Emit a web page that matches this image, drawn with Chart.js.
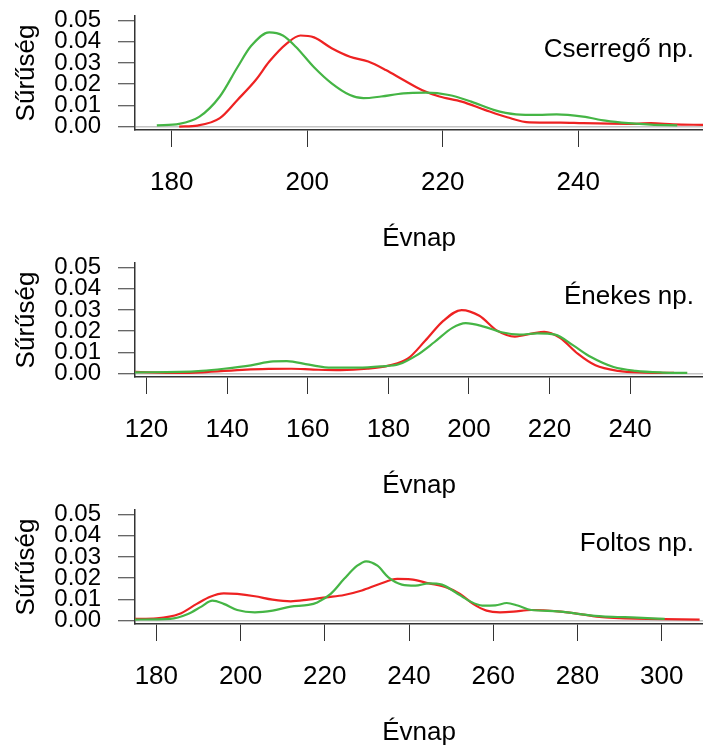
<!DOCTYPE html>
<html>
<head>
<meta charset="utf-8">
<script src="https://cdn.jsdelivr.net/npm/chart.js@4/dist/chart.umd.min.js"></script>
<style>
  html, body { margin: 0; padding: 0; background: #fff; }
  #wrap { position: relative; width: 703px; height: 749px; overflow: hidden; }
  #wrap canvas { position: absolute; left: 0; }
</style>
</head>
<body>
<div id="wrap">
  <canvas id="p1" width="703" height="252" style="top:0px"></canvas>
  <canvas id="p2" width="703" height="252" style="top:247px"></canvas>
  <canvas id="p3" width="703" height="252" style="top:494px"></canvas>
</div>
<script>
// Cserregő np.
const cserGreenX = [177.8, 181.1, 184.1, 187.1, 189.7, 191.7, 194.4, 196.4, 198.3, 201, 203.6, 206.3, 208.3, 210.9, 214.2, 217.5, 220.9, 224.2, 227.5, 230.8, 234.1, 236.8, 240.7, 244, 247.4, 250.7, 254.6];
const cserGreenY = [0.0006, 0.0013, 0.0047, 0.0142, 0.028, 0.038, 0.0445, 0.043, 0.0377, 0.028, 0.0204, 0.0149, 0.0134, 0.0142, 0.0157, 0.016, 0.0149, 0.0118, 0.0079, 0.0058, 0.0055, 0.0058, 0.0047, 0.0028, 0.0016, 0.0009, 0.0006];
const cserRedX = [181.1, 183.8, 187.1, 189.7, 192.4, 194.4, 197, 199, 201, 203.6, 206.3, 209, 211.6, 214.2, 216.9, 219.5, 222.8, 226.2, 229.5, 232.8, 237.4, 240.7, 247.4, 250.7, 254, 258.5];
const cserRedY = [0, 0.0005, 0.004, 0.0126, 0.022, 0.0307, 0.0393, 0.043, 0.0421, 0.037, 0.033, 0.0307, 0.0267, 0.022, 0.0173, 0.0142, 0.0118, 0.0079, 0.0044, 0.002, 0.0019, 0.0016, 0.0013, 0.0016, 0.0011, 0.0008];

// Énekes np.
const enekGreenX = [117, 128.1, 133.7, 139.2, 145.9, 151.4, 154.8, 160.3, 165.9, 172.6, 178.1, 182.6, 187, 191.4, 195.9, 199.2, 203.7, 208.1, 212.6, 217, 221.4, 225.9, 230.3, 235.9, 241.4, 248.1, 254.2];
const enekGreenY = [0.0006, 0.0008, 0.0013, 0.0023, 0.0039, 0.0058, 0.0059, 0.0042, 0.0028, 0.0028, 0.0034, 0.0044, 0.0086, 0.0148, 0.0216, 0.0238, 0.0222, 0.0195, 0.0184, 0.019, 0.0184, 0.0133, 0.0078, 0.0031, 0.0013, 0.0005, 0.0003];
const enekRedX = [117, 128.1, 133.7, 144.8, 150.3, 155.9, 161.4, 168.1, 174.8, 180.3, 184.8, 189.2, 193.7, 198.2, 202.6, 207, 211.4, 215.9, 218.7, 222.6, 227, 231.4, 237, 243.7, 250.9];
const enekRedY = [0.0008, 0.0003, 0.0006, 0.0019, 0.0022, 0.0023, 0.0019, 0.0016, 0.0023, 0.0039, 0.007, 0.0156, 0.025, 0.03, 0.0273, 0.0203, 0.0175, 0.019, 0.0197, 0.0169, 0.0094, 0.0039, 0.0013, 0.0005, 0.0003];

// Foltos np.
const foltGreenX = [174.8, 183.3, 187.5, 190.7, 193.3, 196, 199.2, 203.4, 207.6, 211.9, 216.1, 218.2, 221.4, 224.6, 227.7, 229.8, 232.5, 235.1, 238.3, 241.5, 244.7, 247.8, 251, 254.2, 257.4, 260.5, 263.2, 265.8, 269, 275.3, 280.6, 285.9, 291.2, 295.4, 300.7];
const foltGreenY = [0.0005, 0.0008, 0.0031, 0.0066, 0.0094, 0.0079, 0.005, 0.0039, 0.0047, 0.0066, 0.0074, 0.0086, 0.0126, 0.0197, 0.0259, 0.028, 0.0259, 0.0204, 0.017, 0.0165, 0.0176, 0.017, 0.0134, 0.0094, 0.0071, 0.0072, 0.0083, 0.0071, 0.005, 0.0044, 0.0031, 0.002, 0.0016, 0.0013, 0.0008];
const foltRedX = [174.8, 180.1, 185.4, 189.6, 192.8, 196, 199.2, 203.4, 207.6, 211.9, 216.1, 220.3, 224.6, 228.8, 233, 237.2, 240.4, 244.7, 248.9, 252.1, 255.2, 258.4, 261.6, 264.8, 269, 275.3, 280.6, 285.9, 291.2, 296.5, 309];
const foltRedY = [0.0008, 0.0011, 0.0031, 0.0079, 0.0113, 0.0129, 0.0126, 0.0115, 0.0099, 0.0091, 0.0099, 0.011, 0.0121, 0.0142, 0.0173, 0.0197, 0.0195, 0.0176, 0.0157, 0.0126, 0.0079, 0.0047, 0.0039, 0.0042, 0.005, 0.0044, 0.0031, 0.0016, 0.0011, 0.0008, 0.0005];

const yTicks = [0, 0.01, 0.02, 0.03, 0.04, 0.05];
const xTitle = 'Évnap';
const yTitle = 'Sűrűség';

const FONT = 'Liberation Sans, Arial, sans-serif';
const GREEN = '#45b545';
const RED = '#ee2222';
const AXIS = '#333333';

// legend-like label in the top right corner
const cornerLabel = {
    id: 'cornerLabel',
    afterDraw(chart, args, opts) {
        const ctx = chart.ctx;
        ctx.save();
        ctx.font = '26px ' + FONT;
        ctx.fillStyle = '#000';
        ctx.textAlign = 'right';
        ctx.textBaseline = 'middle';
        ctx.fillText(opts.text, chart.chartArea.right - 9, chart.chartArea.top + 34);
        ctx.restore();
    }
};

function pts(xs, ys) {
    return xs.map((x, i) => ({ x: x, y: ys[i] }));
}

function makePanel(id, name, xMin, xMax, xTicks, gx, gy, rx, ry) {
    const ctx = document.getElementById(id).getContext('2d');
    return new Chart(ctx, {
        type: 'line',
        data: {
            datasets: [
                { data: pts(gx, gy), borderColor: GREEN, borderWidth: 2.2 },
                { data: pts(rx, ry), borderColor: RED, borderWidth: 2.2 }
            ]
        },
        options: {
            responsive: false,
            animation: false,
            devicePixelRatio: 1,
            layout: { padding: { top: 16, left: 0, right: 0, bottom: 0 } },
            elements: {
                point: { radius: 0 },
                line: { cubicInterpolationMode: 'monotone', fill: false }
            },
            plugins: {
                legend: { display: false },
                tooltip: { enabled: false },
                cornerLabel: { text: name }
            },
            scales: {
                x: {
                    type: 'linear',
                    min: xMin,
                    max: xMax,
                    afterBuildTicks: axis => { axis.ticks = xTicks.map(v => ({ value: v })); },
                    afterFit: scale => {
                        scale.height = 122;
                        scale.paddingLeft = 0;
                        scale.paddingRight = 0;
                    },
                    grid: { drawOnChartArea: false, tickLength: 17, tickColor: AXIS, tickWidth: 1 },
                    border: { color: AXIS, width: 1.5 },
                    ticks: { color: '#000', padding: 20, autoSkip: false, maxRotation: 0, font: { family: FONT, size: 26 } },
                    title: { display: true, text: xTitle, color: '#000', padding: 0, font: { family: FONT, size: 26, lineHeight: 1 } }
                },
                y: {
                    type: 'linear',
                    min: -0.0016,
                    max: 0.0522,
                    afterBuildTicks: axis => { axis.ticks = yTicks.map(v => ({ value: v })); },
                    afterFit: scale => {
                        scale.width = 135;
                        scale.paddingTop = 0;
                        scale.paddingBottom = 0;
                    },
                    grid: {
                        color: c => (c.tick && c.tick.value === 0) ? '#c4c4c4' : 'rgba(0,0,0,0)',
                        lineWidth: 1.5,
                        tickLength: 17,
                        tickColor: AXIS,
                        tickWidth: 1
                    },
                    border: { color: AXIS, width: 1.5 },
                    ticks: {
                        color: '#000',
                        padding: 17,
                        autoSkip: false,
                        font: { family: FONT, size: 24 },
                        callback: v => v.toFixed(2)
                    },
                    title: { display: true, text: yTitle, color: '#000', padding: { top: 14, bottom: 0 }, font: { family: FONT, size: 26, lineHeight: 1 } }
                }
            }
        },
        plugins: [cornerLabel]
    });
}

makePanel('p1', 'Cserregő np.', 174.58, 258.4, [180, 200, 220, 240], cserGreenX, cserGreenY, cserRedX, cserRedY);
makePanel('p2', 'Énekes np.', 117.13, 258.1, [120, 140, 160, 180, 200, 220, 240], enekGreenX, enekGreenY, enekRedX, enekRedY);
makePanel('p3', 'Foltos np.', 174.93, 309.8, [180, 200, 220, 240, 260, 280, 300], foltGreenX, foltGreenY, foltRedX, foltRedY);
</script>
</body>
</html>
